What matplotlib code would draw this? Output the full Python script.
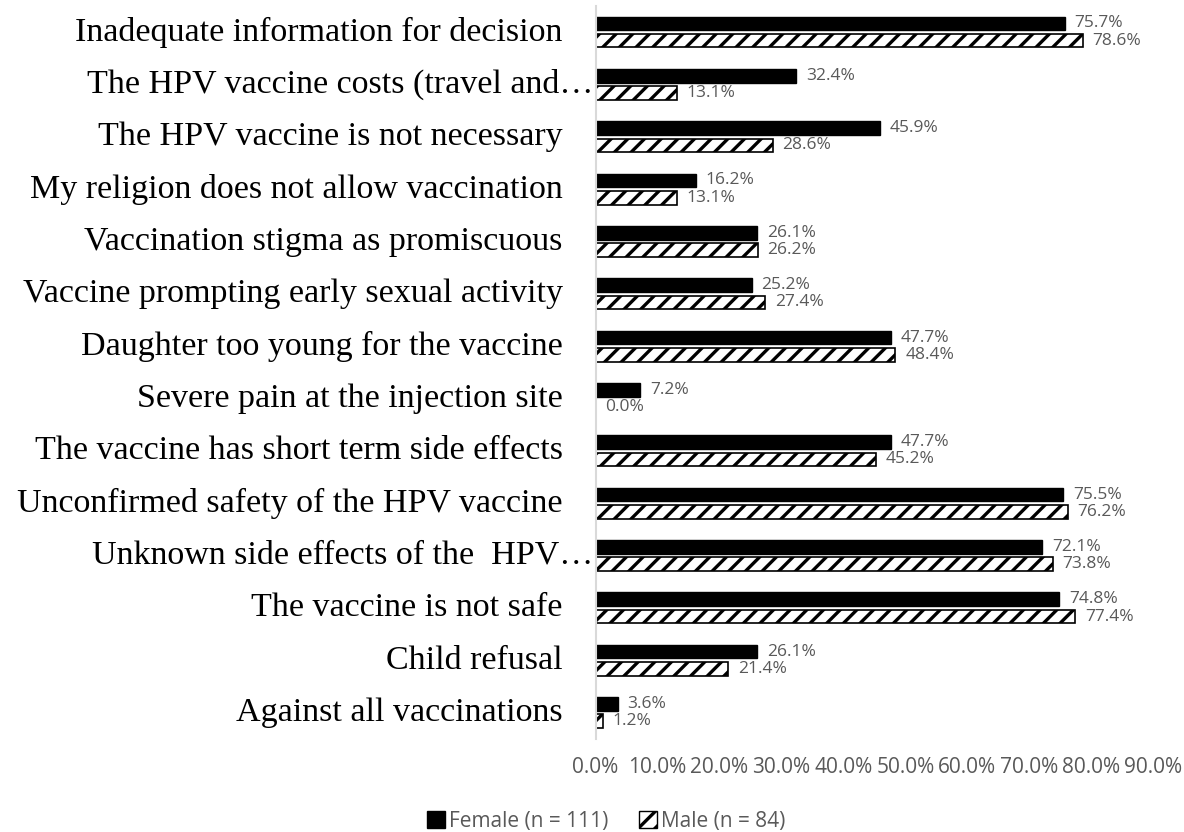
import numpy as np
import matplotlib
matplotlib.use("Agg")
import matplotlib.pyplot as plt
from matplotlib.patches import Patch

plt.rcParams['hatch.linewidth'] = 2.4

categories = [
    "Inadequate information for decision",
    "The HPV vaccine costs (travel and…",
    "The HPV vaccine is not necessary",
    "My religion does not allow vaccination",
    "Vaccination stigma as promiscuous",
    "Vaccine prompting early sexual activity",
    "Daughter too young for the vaccine",
    "Severe pain at the injection site",
    "The vaccine has short term side effects",
    "Unconfirmed safety of the HPV vaccine",
    "Unknown side effects of the  HPV…",
    "The vaccine is not safe",
    "Child refusal",
    "Against all vaccinations",
]
truncated = [1, 10]
female = [75.7, 32.4, 45.9, 16.2, 26.1, 25.2, 47.7, 7.2, 47.7, 75.5, 72.1, 74.8, 26.1, 3.6]
male = [78.6, 13.1, 28.6, 13.1, 26.2, 27.4, 48.4, 0.0, 45.2, 76.2, 73.8, 77.4, 21.4, 1.2]
xticks = [0, 10, 20, 30, 40, 50, 60, 70, 80, 90]

gray = "#595959"
fig = plt.figure(figsize=(11.84, 8.32), dpi=100)
ax = fig.add_axes([0.503, 0.112, 0.471, 0.881])

y = np.arange(len(categories))
h = 0.26
off = 0.165
ax.barh(y - off, female, height=h, color="black", edgecolor="black", label="Female (n = 111)")
ax.barh(y + off, male, height=h, color="white", edgecolor="black", linewidth=1.2,
        hatch="//", label="Male (n = 84)")

for i in range(len(categories)):
    ax.annotate(f"{female[i]:.1f}%", (female[i], y[i] - off), xytext=(7, 0),
                textcoords="offset points", va="center", ha="left",
                fontsize=12.5, color=gray, family="Open Sans")
    ax.annotate(f"{male[i]:.1f}%", (male[i], y[i] + off), xytext=(7, 0),
                textcoords="offset points", va="center", ha="left",
                fontsize=12.5, color=gray, family="Open Sans")
    xpos = -0.4 if i in truncated else -5.3
    ax.text(xpos, y[i], categories[i], ha="right", va="center", fontsize=24.5,
            family="Liberation Serif", color="black", clip_on=False)

ax.set_ylim(len(categories) - 0.5, -0.5)
ax.set_xlim(0, 90)
ax.set_yticks([])
ax.set_xticks(xticks)
ax.set_xticklabels([f"{t:.1f}%" for t in xticks], fontsize=15, color=gray, family="Open Sans")
ax.tick_params(axis="x", length=0, pad=13)
for s in ["top", "right", "bottom"]:
    ax.spines[s].set_visible(False)
ax.spines["left"].set_color("#d9d9d9")
ax.spines["left"].set_linewidth(1.5)

handles = [Patch(facecolor="black", edgecolor="black"),
           Patch(facecolor="white", edgecolor="black", hatch="//")]
fig.legend(handles, ["Female (n = 111)", "Male (n = 84)"], loc="center",
           bbox_to_anchor=(0.512, 0.013), ncol=2, frameon=False,
           prop={"family": "Open Sans", "size": 15}, labelcolor=gray,
           handlelength=0.85, handleheight=0.85, handletextpad=0.2, columnspacing=1.5)

fig.savefig("out.png", dpi=100)
